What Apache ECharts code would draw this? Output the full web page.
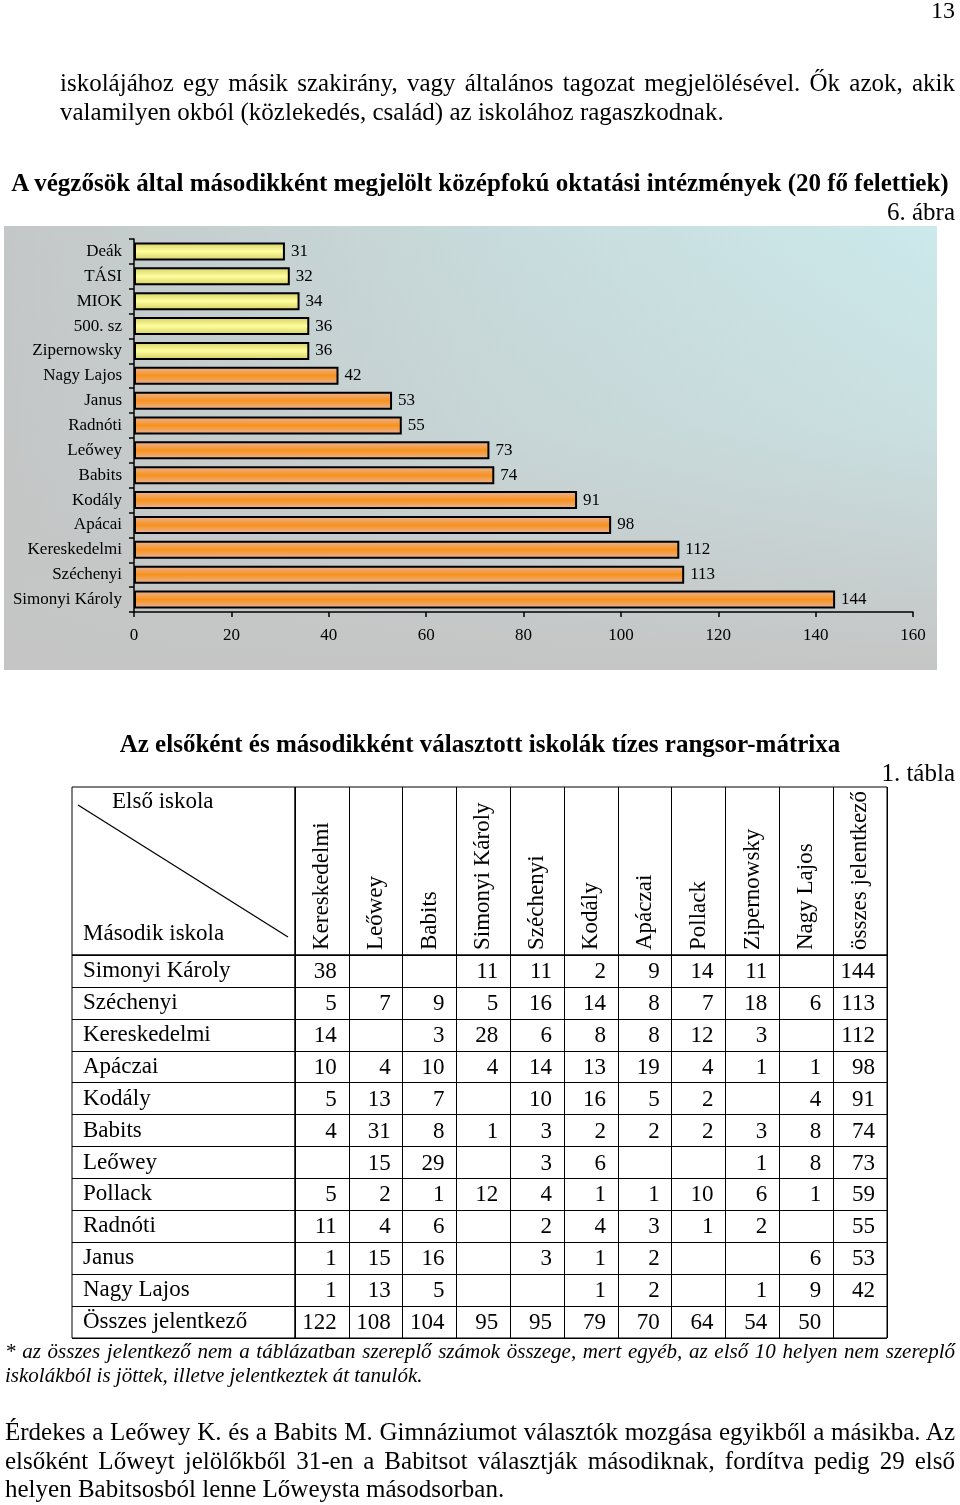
<!DOCTYPE html>
<html><head><meta charset="utf-8">
<script src="https://cdn.jsdelivr.net/npm/echarts@6/dist/echarts.min.js"></script>
<style>
html,body{margin:0;padding:0;background:#fff;}
#page{position:relative;width:960px;height:1505px;overflow:hidden;font-family:'Liberation Serif','Times New Roman',serif;color:#000;}
#chart{position:absolute;left:0;top:0;width:960px;height:1505px;}
.ln{position:absolute;white-space:nowrap;height:30px;line-height:30px;z-index:2;}
.j{text-align:justify;text-align-last:justify;}
.r{text-align:right;}
.c{text-align:center;}
</style></head><body><div id="page"><div id="chart"></div></div>
<script>
// ---------- bar chart data ----------
const barCategories = ['Deák','TÁSI','MIOK','500. sz','Zipernowsky','Nagy Lajos','Janus','Radnóti','Leőwey','Babits','Kodály','Apácai','Kereskedelmi','Széchenyi','Simonyi Károly'];
const barValues = [31,32,34,36,36,42,53,55,73,74,91,98,112,113,144];
const xTicks = [0,20,40,60,80,100,120,140,160];

// ---------- table data ----------
const colHeaders = ['Kereskedelmi','Leőwey','Babits','Simonyi Károly','Széchenyi','Kodály','Apáczai','Pollack','Zipernowsky','Nagy Lajos','összes jelentkező'];
const rowLabels = ['Simonyi Károly','Széchenyi','Kereskedelmi','Apáczai','Kodály','Babits','Leőwey','Pollack','Radnóti','Janus','Nagy Lajos','Összes jelentkező'];
const rowSimonyi      = [38,null,null,11,11,2,9,14,11,null,144];
const rowSzechenyi    = [5,7,9,5,16,14,8,7,18,6,113];
const rowKereskedelmi = [14,null,3,28,6,8,8,12,3,null,112];
const rowApaczai      = [10,4,10,4,14,13,19,4,1,1,98];
const rowKodaly       = [5,13,7,null,10,16,5,2,null,4,91];
const rowBabits       = [4,31,8,1,3,2,2,2,3,8,74];
const rowLeowey       = [null,15,29,null,3,6,null,null,1,8,73];
const rowPollack      = [5,2,1,12,4,1,1,10,6,1,59];
const rowRadnoti      = [11,4,6,null,2,4,3,1,2,null,55];
const rowJanus        = [1,15,16,null,3,1,2,null,null,6,53];
const rowNagyLajos    = [1,13,5,null,null,1,2,null,1,9,42];
const rowOsszes       = [122,108,104,95,95,79,70,64,54,50,null];
const tableRows = [rowSimonyi,rowSzechenyi,rowKereskedelmi,rowApaczai,rowKodaly,rowBabits,rowLeowey,rowPollack,rowRadnoti,rowJanus,rowNagyLajos,rowOsszes];

// ---------- page texts ----------
const pageNumber = '13';
const introLines = ['iskolájához egy másik szakirány, vagy általános tagozat megjelölésével. Ők azok, akik','valamilyen okból (közlekedés, család) az iskolához ragaszkodnak.'];
const chartTitle = 'A végzősök által másodikként megjelölt középfokú oktatási intézmények (20 fő felettiek)';
const chartTag = '6. ábra';
const tableTitle = 'Az elsőként és másodikként választott iskolák tízes rangsor-mátrixa';
const tableTag = '1. tábla';
const cornerTop = 'Első iskola';
const cornerBottom = 'Második iskola';
const noteLines = ['* az összes jelentkező nem a táblázatban szereplő számok összege, mert egyéb, az első 10 helyen nem szereplő','iskolákból is jöttek, illetve jelentkeztek át tanulók.'];
const closingLines = ['Érdekes a Leőwey K. és a Babits M. Gimnáziumot választók mozgása egyikből a másikba. Az','elsőként Lőweyt jelölőkből 31-en a Babitsot választják másodiknak, fordítva pedig 29 első','helyen Babitsosból lenne Lőweysta másodsorban.'];

// ---------- HTML text lines ----------
const page = document.getElementById('page');
function line(text, cy, left, width, cls, css){
  const d = document.createElement('div');
  d.className = 'ln ' + (cls||'');
  d.textContent = text;
  d.style.top = (cy - 15) + 'px';
  d.style.left = left + 'px';
  d.style.width = width + 'px';
  if (css) Object.assign(d.style, css);
  page.appendChild(d);
}
const body = {fontSize:'25px'};
line(pageNumber, 10, 860, 95, 'r', {fontSize:'24px'});
line(introLines[0], 83, 60, 895, 'j', body);
line(introLines[1], 112, 60, 895, '', body);
line(chartTitle, 183, 2, 956, 'c', {fontSize:'25px', fontWeight:'bold'});
line(chartTag, 212, 800, 155, 'r', body);
line(tableTitle, 744, 5, 950, 'c', {fontSize:'25px', fontWeight:'bold'});
line(tableTag, 773, 800, 155, 'r', body);
line(noteLines[0], 1351, 5, 950, 'j', {fontSize:'21px', fontStyle:'italic'});
line(noteLines[1], 1375, 5, 950, '', {fontSize:'21px', fontStyle:'italic'});
line(closingLines[0], 1432, 5, 950, 'j', body);
line(closingLines[1], 1461, 5, 950, 'j', body);
line(closingLines[2], 1489, 5, 950, '', body);

// ---------- ECharts ----------
const FONT = "'Liberation Serif','Times New Roman',serif";
const chart = echarts.init(document.getElementById('chart'), null, {renderer:'canvas'});
function grad(edge, mid){
  return {type:'linear',x:0,y:0,x2:0,y2:1,colorStops:[{offset:0,color:edge},{offset:0.5,color:mid},{offset:1,color:edge}]};
}
const cellData = [];
tableRows.forEach((row, r) => row.forEach((v, c) => { if (v !== null) cellData.push([c, r, v]); }));
const headerData = colHeaders.map((h, i) => [i, 0, h]);

const black = {color:'#000', width:1};
const option = {
  backgroundColor: 'transparent',
  animation: false,
  graphic: [
    {type:'rect', z:-20, shape:{x:4,y:226,width:933,height:444},
     style:{fill:{type:'linear',x:0,y:0,x2:1,y2:0,colorStops:[{offset:0,color:'#c4c7c7'},{offset:0.55,color:'#c8dcdd'},{offset:1,color:'#cce9eb'}]}}},
    {type:'rect', z:-19, shape:{x:4,y:226,width:933,height:444},
     style:{fill:{type:'linear',x:0,y:0,x2:0,y2:1,colorStops:[{offset:0,color:'rgba(197,197,197,0)'},{offset:0.45,color:'rgba(197,197,197,0.25)'},{offset:1,color:'rgba(197,197,197,1)'}]}}},
    {type:'line', z:5, shape:{x1:78,y1:805,x2:288,y2:937}, style:{stroke:'#000', lineWidth:1.3}},
    {type:'text', z:5, x:112, y:802, style:{text:cornerTop, font:'23px '+FONT, fill:'#000', align:'left', verticalAlign:'middle', textAlign:'left', textVerticalAlign:'middle'}},
    {type:'text', z:5, x:83, y:934, style:{text:cornerBottom, font:'23px '+FONT, fill:'#000', align:'left', verticalAlign:'middle', textAlign:'left', textVerticalAlign:'middle'}}
  ],
  grid: [
    {left:134, top:239, width:779, height:373},
    {left:295, top:955, width:592, height:383, show:true, borderColor:'#000', borderWidth:1, backgroundColor:'transparent'},
    {left:295, top:787, width:592, height:168, show:true, borderColor:'#000', borderWidth:1, backgroundColor:'transparent'},
    {left:72, top:955, width:223, height:383, show:true, borderColor:'#000', borderWidth:1, backgroundColor:'transparent'},
    {left:72, top:787, width:223, height:168, show:true, borderColor:'#000', borderWidth:1, backgroundColor:'transparent'}
  ],
  xAxis: [
    {gridIndex:0, type:'value', min:xTicks[0], max:xTicks[xTicks.length-1], interval:xTicks[1]-xTicks[0],
     axisLine:{show:true, lineStyle:{color:'#000', width:1.5}},
     axisTick:{show:true, length:5, lineStyle:{color:'#000', width:1.5}},
     axisLabel:{fontFamily:FONT, fontSize:17, color:'#000', margin:15},
     splitLine:{show:false}},
    {gridIndex:1, type:'category', data:colHeaders,
     axisLine:{show:false}, axisTick:{show:false}, axisLabel:{show:false},
     splitLine:{show:true, interval:0, lineStyle:black}},
    {gridIndex:2, type:'category', data:colHeaders,
     axisLine:{show:false}, axisTick:{show:false}, axisLabel:{show:false},
     splitLine:{show:true, interval:0, lineStyle:black}},
    {gridIndex:3, type:'category', data:[''], show:false},
    {gridIndex:4, type:'category', data:[''], show:false}
  ],
  yAxis: [
    {gridIndex:0, type:'category', data:barCategories, inverse:true,
     axisLine:{show:true, lineStyle:{color:'#000', width:1.5}},
     axisTick:{show:true, length:5, lineStyle:{color:'#000', width:1.5}},
     axisLabel:{fontFamily:FONT, fontSize:17, color:'#000', margin:12, interval:0}},
    {gridIndex:1, type:'category', data:rowLabels, inverse:true,
     axisLine:{show:false}, axisTick:{show:false}, axisLabel:{show:false},
     splitLine:{show:true, interval:0, lineStyle:black}},
    {gridIndex:2, type:'category', data:[''], show:false},
    {gridIndex:3, type:'category', data:rowLabels, inverse:true,
     axisLine:{show:false}, axisTick:{show:false},
     axisLabel:{inside:true, interval:0, margin:11, fontFamily:FONT, fontSize:23, color:'#000'},
     splitLine:{show:true, interval:0, lineStyle:black}},
    {gridIndex:4, type:'category', data:[''], show:false}
  ],
  series: [
    {type:'bar', xAxisIndex:0, yAxisIndex:0, barWidth:18,
     data: barValues.map(v => ({value:v, itemStyle:{color: v < 40 ? grad('#d3cc62','#ffff9e') : grad('#e8b6a3','#f8921b')}})),
     itemStyle:{borderColor:'#000', borderWidth:2},
     label:{show:true, position:'right', distance:6, fontFamily:FONT, fontSize:17, color:'#000'}},
    {type:'custom', xAxisIndex:1, yAxisIndex:1, data:cellData,
     renderItem: function(params, api){
       const p = api.coord([api.value(0), api.value(1)]);
       const s = api.size([1,1]);
       return {type:'text', x: p[0] + s[0]/2 - 12, y: p[1] + 1,
         style:{text:String(api.value(2)), font:'23px '+FONT, fill:'#000', align:'right', verticalAlign:'middle'}};
     }},
    {type:'custom', xAxisIndex:2, yAxisIndex:2, data:headerData,
     renderItem: function(params, api){
       const i = api.value(0);
       const p = api.coord([i, 0]);
       const s = api.size([1,1]);
       return {type:'text', x: p[0], y: p[1] + s[1]/2 - 5, rotation: Math.PI/2,
         style:{text:colHeaders[i], font:'23px '+FONT, fill:'#000', align:'left', verticalAlign:'middle'}};
     }}
  ]
};
chart.setOption(option);
</script></body></html>
